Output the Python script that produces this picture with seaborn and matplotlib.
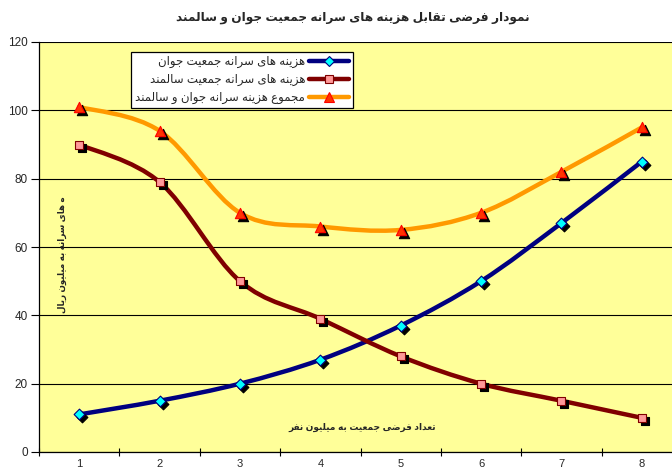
import matplotlib
matplotlib.use("Agg")
import matplotlib.pyplot as plt
from matplotlib.path import Path
from matplotlib.patches import PathPatch
from matplotlib.lines import Line2D
from matplotlib.transforms import offset_copy
import numpy as np
import seaborn as sns

# data
population = [1, 2, 3, 4, 5, 6, 7, 8]
young_cost = [11, 15, 20, 27, 37, 50, 67, 85]
old_cost = [90, 79, 50, 39, 28, 20, 15, 10]
total_cost = [101, 94, 70, 66, 65, 70, 82, 95]
series_names = ["هزینه های سرانه جمعیت جوان",
                "هزینه های سرانه جمعیت سالمند",
                "مجموع هزینه سرانه جوان و سالمند"]
title = "نمودار فرضی تقابل هزینه های سرانه جمعیت جوان و سالمند"
x_title = "تعداد فرضی جمعیت به میلیون نفر"
y_title = "ه های سرانه به میلیون ریال"

# matplotlib does no arabic shaping, so pick presentation forms by hand
FORMS = {
    'ا': (0xFE8D, 0xFE8E, None, None),
    'ب': (0xFE8F, 0xFE90, 0xFE91, 0xFE92),
    'ت': (0xFE95, 0xFE96, 0xFE97, 0xFE98),
    'ج': (0xFE9D, 0xFE9E, 0xFE9F, 0xFEA0),
    'د': (0xFEA9, 0xFEAA, None, None),
    'ر': (0xFEAD, 0xFEAE, None, None),
    'ز': (0xFEAF, 0xFEB0, None, None),
    'س': (0xFEB1, 0xFEB2, 0xFEB3, 0xFEB4),
    'ض': (0xFEBD, 0xFEBE, 0xFEBF, 0xFEC0),
    'ع': (0xFEC9, 0xFECA, 0xFECB, 0xFECC),
    'ف': (0xFED1, 0xFED2, 0xFED3, 0xFED4),
    'ق': (0xFED5, 0xFED6, 0xFED7, 0xFED8),
    'ل': (0xFEDD, 0xFEDE, 0xFEDF, 0xFEE0),
    'م': (0xFEE1, 0xFEE2, 0xFEE3, 0xFEE4),
    'ن': (0xFEE5, 0xFEE6, 0xFEE7, 0xFEE8),
    'ه': (0xFEE9, 0xFEEA, 0xFEEB, 0xFEEC),
    'و': (0xFEED, 0xFEEE, None, None),
    '\u06cc': (0xFEEF, 0xFEF0, 0xFEF3, 0xFEF4),
    '\u064a': (0xFEEF, 0xFEF0, 0xFEF3, 0xFEF4),
}


def fa(s):
    out = []
    for i, c in enumerate(s):
        if c not in FORMS:
            out.append(c)
            continue
        iso, fin, ini, med = FORMS[c]
        p = s[i - 1] if i > 0 else ''
        n = s[i + 1] if i + 1 < len(s) else ''
        join_prev = p in FORMS and FORMS[p][2] is not None
        join_next = n in FORMS and ini is not None
        if join_prev and join_next:
            out.append(chr(med))
        elif join_prev:
            out.append(chr(fin))
        elif join_next:
            out.append(chr(ini))
        else:
            out.append(chr(iso))
    return ''.join(out)[::-1]


def smooth_path(xs, ys):
    # excel style smoothed line: cubic bezier segments (catmull-rom)
    pts = np.column_stack([xs, ys]).astype(float)
    ext = np.vstack([pts[0], pts, pts[-1]])
    verts = [pts[0]]
    codes = [Path.MOVETO]
    for i in range(len(pts) - 1):
        p0, p1, p2, p3 = ext[i], ext[i + 1], ext[i + 2], ext[i + 3]
        verts += [p1 + (p2 - p0) / 6, p2 - (p3 - p1) / 6, p2]
        codes += [Path.CURVE4] * 3
    return Path(verts, codes)


sns.set_style("white")
plt.rcParams['font.family'] = ['Liberation Sans', 'DejaVu Sans']

fig = plt.figure(figsize=(6.72, 4.71), dpi=100)
ax = fig.add_axes([39 / 672, 1 - 452 / 471, 643 / 672, 410 / 471])
ax.set_facecolor("#FFFF99")

styles = [
    (young_cost, "#000080", "D", "#00FFFF", "#000080", 30),
    (old_cost, "#800000", "s", "#FF9999", "#800000", 38),
    (total_cost, "#FF9900", "^", "#FF3300", "#FF0000", 55),
]
shadow = offset_copy(ax.transData, fig=fig, x=3, y=-3, units='dots')
handles = []
for vals, lc, mk, fc, ec, size in styles:
    ax.add_patch(PathPatch(smooth_path(population, vals), fill=False,
                           edgecolor=lc, lw=3.2, zorder=3, capstyle='round'))
    sns.scatterplot(x=population, y=vals, marker=mk, s=size, color="black",
                    edgecolor="black", linewidth=0.8, ax=ax, zorder=4,
                    transform=shadow)
    sns.scatterplot(x=population, y=vals, marker=mk, s=size, color=fc,
                    edgecolor=ec, linewidth=0.8, ax=ax, zorder=5)
    handles.append(Line2D([], [], color=lc, lw=3.2, marker=mk,
                          markersize=np.sqrt(size), markerfacecolor=fc,
                          markeredgecolor=ec, markeredgewidth=0.8))

ax.set_xlim(0.5, 8.5)
ax.set_ylim(0, 120)
ax.set_yticks(range(0, 121, 20))
ax.set_xticks(np.arange(0.5, 9, 1))
ax.set_xticklabels([])
ax.set_xticks(population, minor=True)
ax.set_xticklabels([str(v) for v in population], minor=True)
ax.tick_params(axis='x', which='major', direction='inout', length=6,
               width=0.8, color='black', bottom=True)
ax.tick_params(axis='x', which='minor', length=0, pad=5, labelsize=8)
ax.tick_params(axis='y', direction='out', length=6, width=0.8,
               color='black', left=True, pad=2, labelsize=8.5)
ax.grid(axis='y', color='black', lw=0.8)
ax.set_axisbelow(True)
for side in ['top', 'right']:
    ax.spines[side].set_visible(False)
for side in ['left', 'bottom']:
    ax.spines[side].set_color('black')
    ax.spines[side].set_linewidth(0.9)
ax.set_xlabel("")
ax.set_ylabel("")

leg = fig.legend(handles, [fa(n) for n in series_names],
                 loc='upper left', bbox_to_anchor=(131 / 672, 1 - 52 / 471),
                 borderaxespad=0, markerfirst=False, frameon=True,
                 fancybox=False, edgecolor='black', facecolor='white',
                 framealpha=1, fontsize=8.5, handlelength=3.4,
                 borderpad=0.35, labelspacing=0.5, handletextpad=0.3)
leg.get_frame().set_linewidth(0.9)

fig.text(353 / 672, 1 - 18 / 471, fa(title), ha='center', va='center',
         fontsize=8.7, fontweight='bold')
fig.text(362 / 672, 1 - 427 / 471, fa(x_title), ha='center', va='center',
         fontsize=6.5, fontweight='bold')
fig.text(62 / 672, 1 - 255 / 471, fa(y_title), ha='center', va='center',
         fontsize=6.3, fontweight='bold', rotation=90)

fig.savefig("out.png", dpi=100)
